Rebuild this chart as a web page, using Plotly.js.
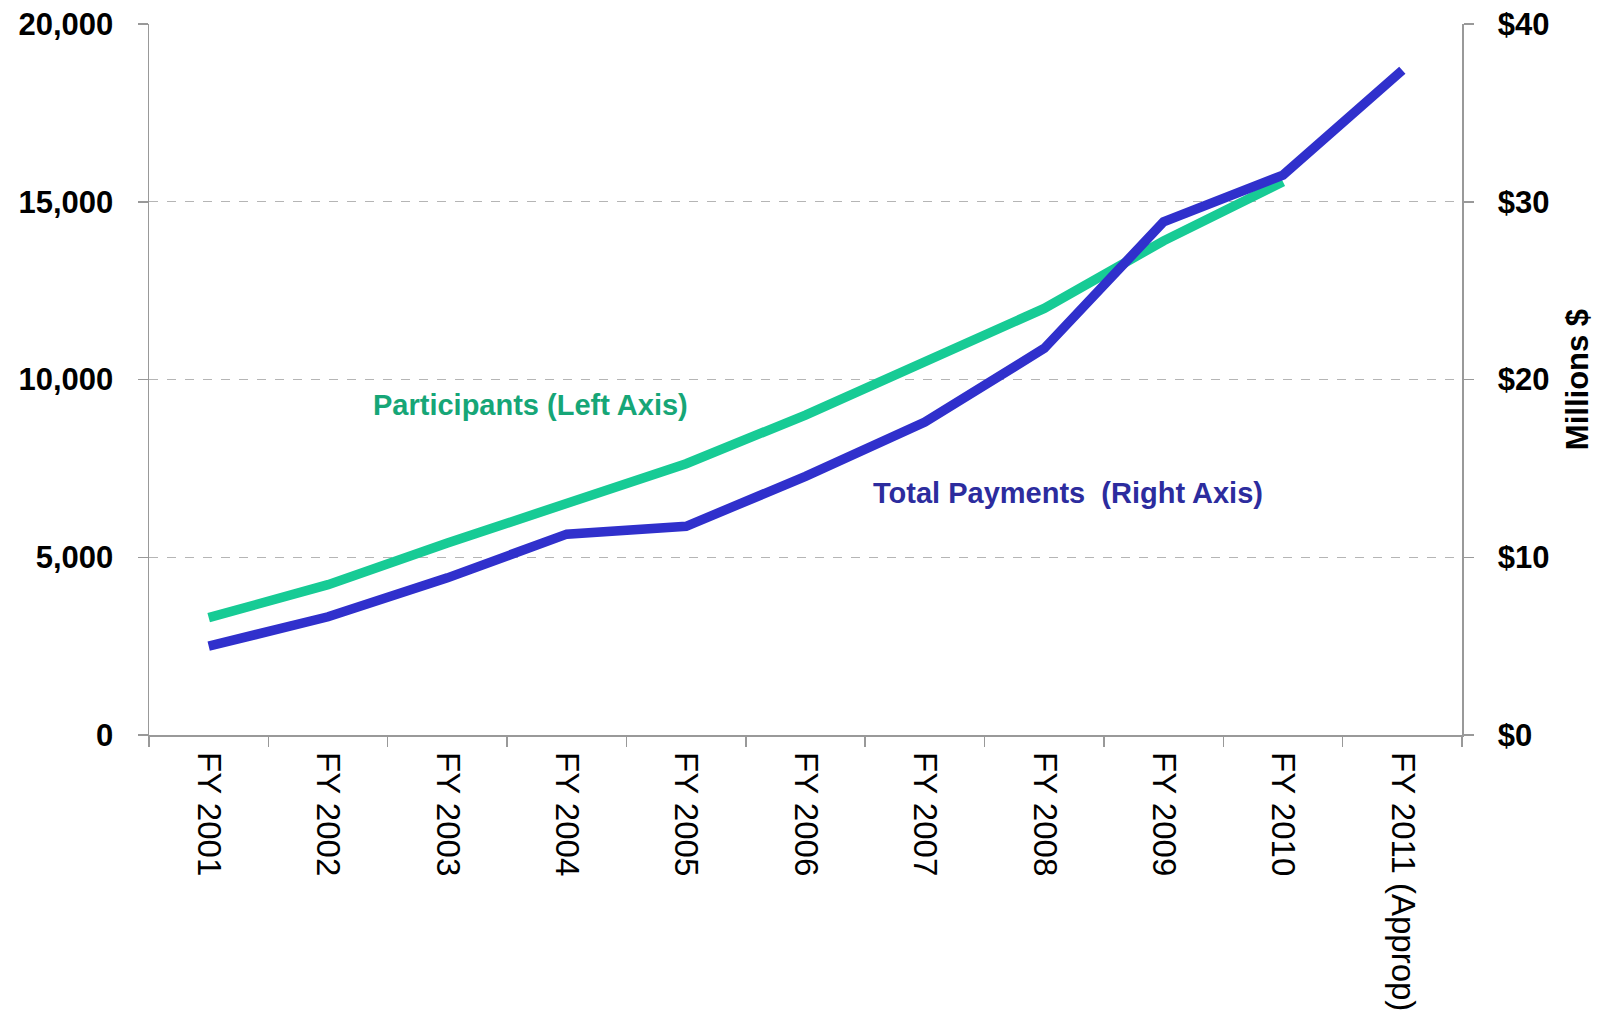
<!DOCTYPE html>
<html>
<head>
<meta charset="utf-8">
<script src="https://cdn.plot.ly/plotly-3.0.1.min.js"></script>
<style>
  html, body { margin: 0; padding: 0; background: #fff; }
  #plot { width: 1606px; height: 1020px; }
</style>
</head>
<body>
<div id="plot"></div>
<script>
// Fiscal years on the x axis
let years = ["FY 2001", "FY 2002", "FY 2003", "FY 2004", "FY 2005", "FY 2006",
             "FY 2007", "FY 2008", "FY 2009", "FY 2010", "FY 2011 (Approp)"];

// Participants (left axis), no value for FY 2011
let participants = [3300, 4230, 5400, 6530, 7630, 9000, 10490, 12000, 13900, 15560];

// Total payments in millions of dollars (right axis)
let payments = [5.0, 6.65, 8.84, 11.3, 11.74, 14.55, 17.6, 21.75, 28.87, 31.5, 37.4];

let fontFamily = "Liberation Sans, Arial, sans-serif";
let greenLine = "#17CB95";
let blueLine = "#3030CC";

let participantsTrace = {
    x: years.slice(0, participants.length),
    y: participants,
    type: "scatter",
    mode: "lines",
    name: "Participants (Left Axis)",
    line: { color: greenLine, width: 9.5 },
    yaxis: "y"
};

let paymentsTrace = {
    x: years,
    y: payments,
    type: "scatter",
    mode: "lines",
    name: "Total Payments (Right Axis)",
    line: { color: blueLine, width: 9.5 },
    yaxis: "y2"
};

let layout = {
    width: 1606,
    height: 1020,
    margin: { l: 149, r: 144, t: 24, b: 285 },
    paper_bgcolor: "#ffffff",
    plot_bgcolor: "#ffffff",
    showlegend: false,
    font: { family: fontFamily, color: "#000" },
    xaxis: {
        type: "category",
        categoryarray: years,
        range: [-0.5, 10.5],
        tickson: "boundaries",
        ticks: "outside",
        ticklen: 10,
        tickcolor: "#999",
        tickwidth: 1.5,
        tickangle: 90,
        ticklabelstandoff: 9,
        tickfont: { size: 33, family: fontFamily, color: "#000" },
        showline: true,
        linecolor: "#999",
        linewidth: 1.5,
        showgrid: false,
        zeroline: false
    },
    yaxis: {
        range: [0, 20000],
        dtick: 5000,
        tickformat: ",d",
        ticks: "outside",
        ticklen: 10,
        tickcolor: "#999",
        tickwidth: 1.5,
        ticklabelstandoff: 18,
        tickfont: { size: 31, family: fontFamily, color: "#000", weight: "bold" },
        showline: true,
        linecolor: "#999",
        linewidth: 1.5,
        showgrid: true,
        gridcolor: "#b5b5b5",
        griddash: "dash",
        gridwidth: 1,
        zeroline: false
    },
    yaxis2: {
        overlaying: "y",
        side: "right",
        range: [0, 40],
        dtick: 10,
        tickprefix: "$",
        ticks: "outside",
        ticklen: 10,
        tickcolor: "#999",
        tickwidth: 1.5,
        ticklabelstandoff: 18,
        tickfont: { size: 31, family: fontFamily, color: "#000", weight: "bold" },
        showline: true,
        linecolor: "#999",
        linewidth: 1.5,
        showgrid: false,
        zeroline: false,
        title: {
            text: "Millions $",
            font: { size: 31, family: fontFamily, color: "#000", weight: "bold" },
            standoff: 18
        }
    },
    annotations: [
        {
            text: "Participants (Left Axis)",
            x: 2.7, y: 9290, xref: "x", yref: "y",
            showarrow: false,
            font: { size: 29, family: fontFamily, color: "#16A677", weight: "bold" }
        },
        {
            text: "Total Payments  (Right Axis)",
            x: 7.2, y: 13.6, xref: "x", yref: "y2",
            showarrow: false,
            font: { size: 29, family: fontFamily, color: "#2C2C9E", weight: "bold" }
        }
    ]
};

Plotly.newPlot("plot", [participantsTrace, paymentsTrace], layout, { staticPlot: true });
</script>
</body>
</html>
